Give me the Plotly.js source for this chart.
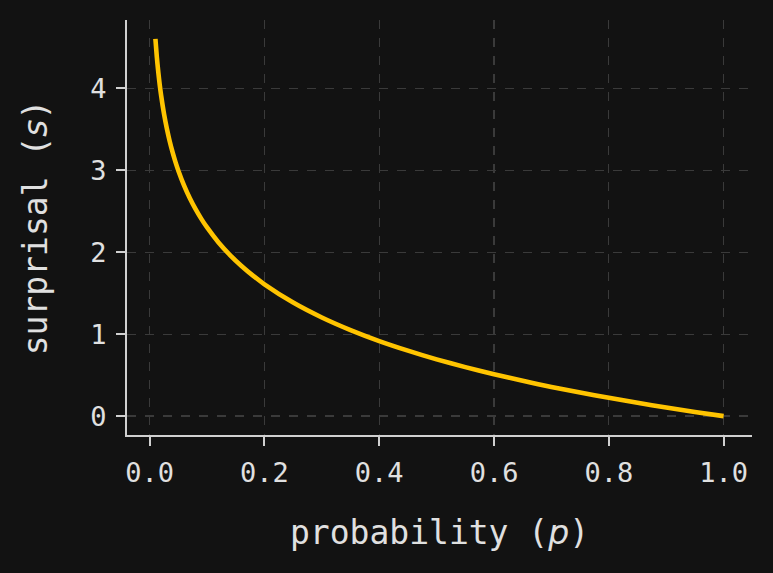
<!DOCTYPE html>
<html>
<head>
<meta charset="utf-8">
<script src="https://cdn.plot.ly/plotly-3.0.1.min.js"></script>
<style>
  html, body { margin: 0; padding: 0; background: #121212; }
  #chart { width: 773px; height: 573px; }
</style>
</head>
<body>
<div id="chart"></div>
<script>
// probability values (x) and surprisal values (y)
const probability = [0.01, 0.0125, 0.015, 0.0175, 0.02, 0.025, 0.03, 0.035, 0.04, 0.045, 0.05, 0.06, 0.07, 0.08, 0.09, 0.10,
  0.12, 0.14, 0.16, 0.18, 0.20, 0.25, 0.30, 0.35, 0.40, 0.45, 0.50, 0.55, 0.60, 0.65, 0.70,
  0.75, 0.80, 0.85, 0.90, 0.95, 1.00];
const surprisal = [4.605, 4.382, 4.200, 4.045, 3.912, 3.689, 3.507, 3.352, 3.219, 3.101, 2.996, 2.813, 2.659, 2.526, 2.408, 2.303,
  2.120, 1.966, 1.833, 1.715, 1.609, 1.386, 1.204, 1.050, 0.916, 0.799, 0.693, 0.598, 0.511, 0.431, 0.357,
  0.288, 0.223, 0.163, 0.105, 0.051, 0.000];
const xTicks = [0.0, 0.2, 0.4, 0.6, 0.8, 1.0];
const xTickLabels = ["0.0", "0.2", "0.4", "0.6", "0.8", "1.0"];
const yTicks = [0, 1, 2, 3, 4];
const yTickLabels = ["0", "1", "2", "3", "4"];

const textColor = "#e0e0e0";
const mono = "DejaVu Sans Mono";

const trace = {
  x: probability,
  y: surprisal,
  type: "scatter",
  mode: "lines",
  line: { color: "#ffc400", width: 4.6, shape: "spline", smoothing: 0.6 },
  hoverinfo: "skip"
};

const axisCommon = {
  showline: true,
  linecolor: "#d0d0d0",
  linewidth: 2,
  mirror: false,
  ticks: "outside",
  ticklen: 9,
  tickwidth: 2,
  tickcolor: "#d0d0d0",
  showgrid: true,
  gridcolor: "#3a3a3a",
  griddash: "dash",
  gridwidth: 1.3,
  zeroline: false,
  tickfont: { family: mono, size: 27, color: textColor }
};

const layout = {
  width: 773,
  height: 573,
  paper_bgcolor: "#121212",
  plot_bgcolor: "#121212",
  margin: { l: 127, r: 21, t: 20, b: 138 },
  showlegend: false,
  xaxis: Object.assign({}, axisCommon, {
    range: [-0.0395, 1.0495],
    tickvals: xTicks,
    ticktext: xTickLabels,
    ticklabelstandoff: 4,
    title: {
      text: 'probability (<span style="font-family:DejaVu Sans"><i>p</i></span>)',
      font: { family: mono, size: 33, color: textColor },
      standoff: 33
    }
  }),
  yaxis: Object.assign({}, axisCommon, {
    range: [-0.2303, 4.8354],
    tickvals: yTicks,
    ticktext: yTickLabels,
    ticklabelstandoff: 4,
    title: {
      text: 'surprisal (<span style="font-family:DejaVu Sans"><i>s</i></span>)',
      font: { family: mono, size: 33, color: textColor },
      standoff: 33
    }
  })
};

Plotly.newPlot("chart", [trace], layout, { displayModeBar: false, staticPlot: true });
</script>
</body>
</html>
